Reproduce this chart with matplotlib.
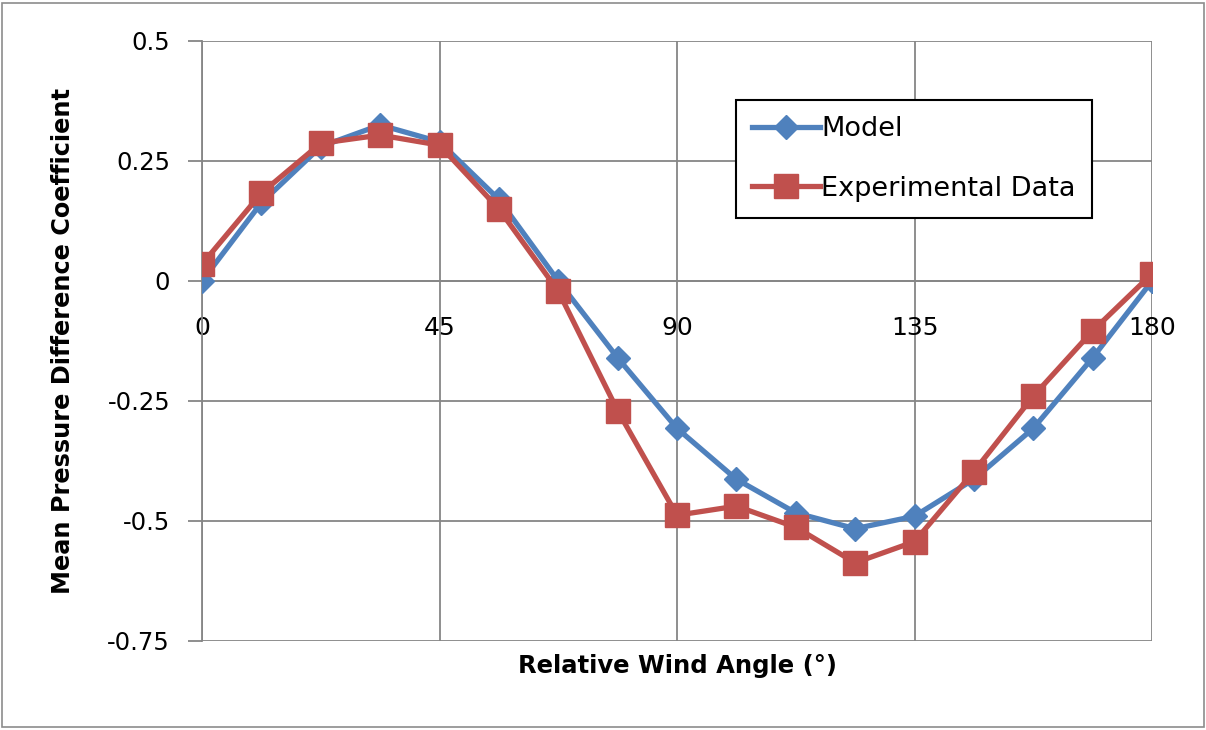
import matplotlib
matplotlib.use("Agg")
import matplotlib.pyplot as plt
from matplotlib.patches import Rectangle

# wind angles (deg) and pressure difference coefficients
angles = [0, 11.25, 22.5, 33.75, 45, 56.25, 67.5, 78.75, 90,
          101.25, 112.5, 123.75, 135, 146.25, 157.5, 168.75, 180]
model = [0.0, 0.163, 0.28, 0.325, 0.29, 0.17, 0.0, -0.16, -0.307,
         -0.413, -0.483, -0.516, -0.49, -0.413, -0.307, -0.16, 0.0]
experimental = [0.035, 0.183, 0.287, 0.304, 0.283, 0.15, -0.021, -0.27, -0.488,
                -0.469, -0.513, -0.587, -0.543, -0.397, -0.24, -0.104, 0.015]

x_ticks = [0, 45, 90, 135, 180]
y_ticks = [0.5, 0.25, 0, -0.25, -0.5, -0.75]
y_tick_labels = ["0.5", "0.25", "0", "-0.25", "-0.5", "-0.75"]

blue = "#4F81BD"
red = "#C0504D"
grid_col = "#868686"

fig = plt.figure(figsize=(12.06, 7.30), dpi=100)
ax = fig.add_axes([202 / 1206, 89 / 730, 950 / 1206, 600 / 730])

ax.plot(angles, model, color=blue, lw=3.8, marker="D", markersize=12,
        label="Model", zorder=3)
ax.plot(angles, experimental, color=red, lw=3.8, marker="s", markersize=17,
        label="Experimental Data", zorder=4)

ax.set_xlim(0, 180)
ax.set_ylim(-0.75, 0.5)
ax.set_xticks(x_ticks)
ax.set_xticklabels([str(t) for t in x_ticks])
ax.set_yticks(y_ticks)
ax.set_yticklabels(y_tick_labels)
ax.grid(True, color=grid_col, lw=1.3)
ax.set_axisbelow(True)

for side in ["top", "right"]:
    ax.spines[side].set_visible(False)
ax.spines["bottom"].set_position(("data", 0))
ax.spines["bottom"].set_color(grid_col)
ax.spines["bottom"].set_linewidth(1.3)
ax.spines["left"].set_color(grid_col)
ax.spines["left"].set_linewidth(1.3)

ax.tick_params(axis="x", length=0, pad=25, labelsize=18)
ax.tick_params(axis="y", length=10, width=1.3, color=grid_col, pad=13,
               labelsize=17.5)

ax.set_xlabel("Relative Wind Angle (°)", fontsize=17.5, fontweight="bold")
ax.xaxis.set_label_coords(0.5, -0.022)
ax.set_ylabel("Mean Pressure Difference Coefficient", fontsize=17.3,
              fontweight="bold")
ax.yaxis.set_label_coords(-0.134, 0.5)

leg = ax.legend(loc="upper right", bbox_to_anchor=(0.937, 0.902),
                borderaxespad=0, fontsize=19.5, fancybox=False, framealpha=1,
                edgecolor="black", borderpad=0.6, labelspacing=1.25,
                handlelength=2.5, handletextpad=0.05)
leg.get_frame().set_linewidth(1.5)

fig.patches.append(Rectangle((0.002, 0.004), 0.996, 0.992, transform=fig.transFigure,
                             fill=False, edgecolor="#8c8c8c", lw=1.2))

fig.savefig("out.png", dpi=100)
